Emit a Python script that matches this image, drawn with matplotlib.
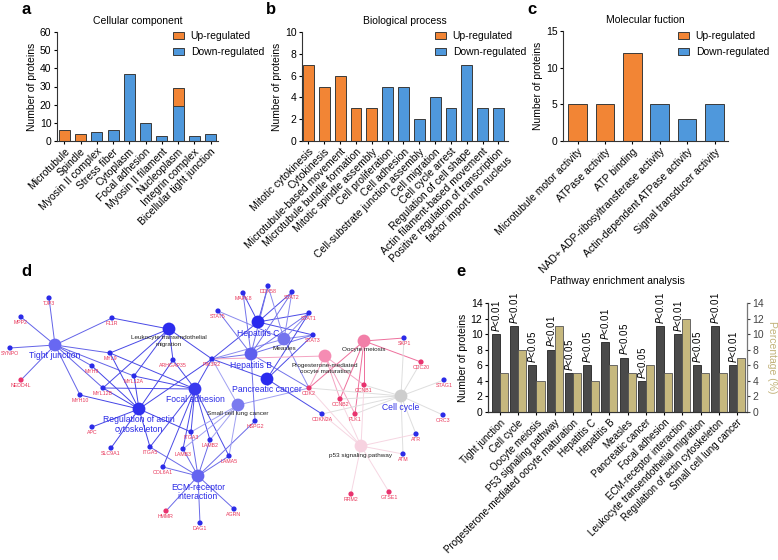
import matplotlib
matplotlib.use('Agg')
import numpy as np
import matplotlib.pyplot as plt
from matplotlib.patches import Patch

plt.rcParams['font.family'] = ['Liberation Sans', 'DejaVu Sans']
plt.rcParams['font.size'] = 7.5
plt.rcParams['axes.linewidth'] = 0.8
plt.rcParams['axes.edgecolor'] = '#333333'
plt.rcParams['xtick.major.size'] = 2.5
plt.rcParams['ytick.major.size'] = 2.5
plt.rcParams['xtick.major.width'] = 0.8
plt.rcParams['ytick.major.width'] = 0.8
plt.rcParams['xtick.major.pad'] = 1.5
plt.rcParams['ytick.major.pad'] = 1.5

W, H = 778, 560
UP = '#f28535'
DOWN = '#4f98dc'
EDGE = '#3a3a3a'
DARK = '#4a4a4a'
TAN = '#c6b87e'

# ---- data: GO panels ----
cc_terms = ['Microtubule', 'Spindle', 'Myosin II complex', 'Stress fiber', 'Cytoplasm',
            'Focal adhesion', 'Myosin II filament', 'Nucleoplasm', 'Integrin complex',
            'Bicellular tight junction']
cc_up = [6, 4, 0, 0, 0, 0, 0, 10, 0, 0]
cc_down = [0, 0, 5, 6, 37, 10, 3, 19, 3, 4]

bp_terms = ['Mitotic cytokinesis', 'Cytokinesis', 'Microtubule-based movement',
            'Microtubule bundle formation', 'Mitotic spindle assembly', 'Cell proliferation',
            'Cell adhesion', 'Cell-substrate junction assembly', 'Cell migration',
            'Cell cycle arrest', 'Regulation of cell shape', 'Actin filament-based movement',
            'Positive regulation of transcription\nfactor import into nucleus']
bp_up = [7, 5, 6, 3, 3, 0, 0, 0, 0, 0, 0, 0, 0]
bp_down = [0, 0, 0, 0, 0, 5, 5, 2, 4, 3, 7, 3, 3]

mf_terms = ['Microtubule motor activity', 'ATPase activity', 'ATP binding',
            'NAD+ ADP-ribosyltransferase activity', 'Actin-dependent ATPase activity',
            'Signal transducer activity']
mf_up = [5, 5, 12, 0, 0, 0]
mf_down = [0, 0, 0, 5, 3, 5]

# ---- data: pathway enrichment ----
kegg_terms = ['Tight junction', 'Cell cycle', 'Oocyte meiosis', 'P53 signaling pathway',
              'Progesterone-mediated oocyte maturation', 'Hepatitis C', 'Hepatitis B',
              'Measles', 'Pancreatic cancer', 'Focal adhesion', 'ECM-receptor interaction',
              'Leukocyte transendothelial migration', 'Regulation of actin cytoskeleton',
              'Small cell lung cancer']
kegg_count = [10, 11, 6, 8, 5, 6, 9, 7, 4, 11, 10, 6, 11, 6]
kegg_pct = [5, 8, 4, 11, 5, 4, 6, 5, 6, 5, 12, 5, 5, 7]
kegg_p = ['0.01', '0.01', '0.05', '0.01', '0.05', '0.05', '0.01', '0.05', '0.05',
          '0.01', '0.01', '0.05', '0.01', '0.01']

# ---- data: network (layout in picture pixels) ----
gene_layout = {
    'TJP3': (49, 298), 'MPP2': (21, 317), 'SYNPO': (10, 348), 'NEDD4L': (21, 380),
    'F11R': (112, 318), 'MYL9': (110, 353), 'MYH9': (92, 366), 'MYL12A': (134, 376),
    'ARHGAP35': (173, 360), 'MYL12B': (103, 388), 'MYH10': (80, 395), 'PIK3R2': (212, 359),
    'APC': (92, 427), 'SLC9A1': (111, 448), 'ITGA5': (150, 447), 'ITGA3': (191, 432),
    'LAMB2': (210, 440), 'LAMB3': (183, 449), 'LAMA5': (229, 456), 'COL6A1': (163, 467),
    'HMMR': (166, 511), 'DAG1': (200, 523), 'AGRN': (234, 509), 'HSPG2': (255, 421),
    'MAPK8': (243, 293), 'DDX58': (268, 286), 'STAT2': (292, 292), 'STAT5': (218, 311),
    'STAT1': (309, 313), 'STAT3': (313, 335), 'CDK2': (309, 388), 'CDKN2A': (322, 414),
    'SKP1': (404, 338), 'CDC20': (421, 362), 'CCNB1': (364, 385), 'CCNB2': (340, 399),
    'PLK1': (355, 414), 'STAG1': (444, 380), 'ORC3': (443, 415), 'ATR': (416, 434),
    'ATM': (403, 454), 'RRM2': (351, 494), 'GTSE1': (389, 492),
}
up_genes = ['NEDD4L', 'HMMR', 'CDK2', 'CCNB1', 'CCNB2', 'PLK1', 'CDC20', 'RRM2', 'GTSE1']

hub_layout = {
    'Tight junction': (55, 345), 'Leukocyte transendothelial\nmigration': (169, 329),
    'Regulation of actin\ncytoskeleton': (139, 409), 'Focal adhesion': (195, 389),
    'ECM-receptor\ninteraction': (198, 476), 'Small cell lung cancer': (238, 405),
    'Hepatitis C': (258, 322), 'Measles': (284, 339), 'Hepatitis B': (251, 354),
    'Pancreatic cancer': (267, 379), 'Oocyte meiosis': (364, 341),
    'Progesterone-mediated\noocyte maturation': (325, 356), 'Cell cycle': (401, 396),
    'p53 signaling pathway': (361, 446),
}
hub_genes = {
    'Tight junction': ['TJP3', 'MPP2', 'SYNPO', 'NEDD4L', 'F11R', 'MYL9', 'MYH9', 'MYH10',
                       'MYL12A', 'MYL12B'],
    'Leukocyte transendothelial\nmigration': ['F11R', 'MYL9', 'MYL12A', 'MYL12B', 'ARHGAP35',
                                              'PIK3R2'],
    'Regulation of actin\ncytoskeleton': ['MYL9', 'MYH9', 'MYH10', 'MYL12A', 'MYL12B', 'APC',
                                          'SLC9A1', 'ITGA5', 'ITGA3', 'PIK3R2', 'ARHGAP35'],
    'Focal adhesion': ['ITGA3', 'ITGA5', 'LAMB2', 'LAMB3', 'LAMA5', 'COL6A1', 'PIK3R2',
                       'MYL9', 'MYL12A', 'MYL12B', 'ARHGAP35'],
    'ECM-receptor\ninteraction': ['ITGA3', 'ITGA5', 'LAMB2', 'LAMB3', 'LAMA5', 'COL6A1',
                                  'HMMR', 'DAG1', 'AGRN', 'HSPG2'],
    'Small cell lung cancer': ['ITGA3', 'LAMB2', 'LAMB3', 'LAMA5', 'PIK3R2', 'CDK2'],
    'Hepatitis C': ['MAPK8', 'DDX58', 'STAT1', 'STAT2', 'STAT3', 'PIK3R2'],
    'Measles': ['DDX58', 'STAT1', 'STAT2', 'STAT3', 'STAT5', 'PIK3R2', 'CDK2'],
    'Hepatitis B': ['MAPK8', 'DDX58', 'STAT1', 'STAT2', 'STAT3', 'STAT5', 'PIK3R2', 'CDK2',
                    'HSPG2'],
    'Pancreatic cancer': ['STAT1', 'STAT3', 'PIK3R2', 'CDKN2A'],
    'Oocyte meiosis': ['SKP1', 'CDC20', 'CCNB1', 'CCNB2', 'PLK1', 'CDK2'],
    'Progesterone-mediated\noocyte maturation': ['CCNB1', 'CCNB2', 'PLK1', 'CDK2', 'PIK3R2'],
    'Cell cycle': ['SKP1', 'CDC20', 'STAG1', 'ORC3', 'ATR', 'ATM', 'CCNB1', 'CCNB2', 'PLK1',
                   'CDK2', 'CDKN2A'],
    'p53 signaling pathway': ['ATR', 'ATM', 'RRM2', 'GTSE1', 'CCNB1', 'CCNB2', 'CDK2',
                              'CDKN2A'],
}
hub_color = {
    'Tight junction': '#6868f2', 'Leukocyte transendothelial\nmigration': '#2c2cee',
    'Regulation of actin\ncytoskeleton': '#3030ee', 'Focal adhesion': '#3838ee',
    'ECM-receptor\ninteraction': '#6464f0', 'Small cell lung cancer': '#7a7aef',
    'Hepatitis C': '#2828ee', 'Measles': '#7474ee', 'Hepatitis B': '#5e5eee',
    'Pancreatic cancer': '#2a2aee', 'Oocyte meiosis': '#f27fa8',
    'Progesterone-mediated\noocyte maturation': '#f58cb3', 'Cell cycle': '#cdcdcd',
    'p53 signaling pathway': '#f7d2e0',
}
edge_color = {
    'Tight junction': '#6262e8', 'Leukocyte transendothelial\nmigration': '#4848e6',
    'Regulation of actin\ncytoskeleton': '#4444e6', 'Focal adhesion': '#4a4ae6',
    'ECM-receptor\ninteraction': '#6a6ae8', 'Small cell lung cancer': '#a0a0f2',
    'Hepatitis C': '#4a4ae6', 'Measles': '#8a8aee', 'Hepatitis B': '#7272ea',
    'Pancreatic cancer': '#4a4ae6', 'Oocyte meiosis': '#ee6f9c',
    'Progesterone-mediated\noocyte maturation': '#f4a3c2', 'Cell cycle': '#dedede',
    'p53 signaling pathway': '#f6d6e2',
}
blue_label_hubs = ['Tight junction', 'Regulation of actin\ncytoskeleton', 'Focal adhesion',
                   'ECM-receptor\ninteraction', 'Hepatitis C', 'Hepatitis B',
                   'Pancreatic cancer', 'Cell cycle']

fig = plt.figure(figsize=(W / 100, H / 100), dpi=100)


def px(l, t, r, b):
    return [l / W, 1 - b / H, (r - l) / W, (b - t) / H]


def go_panel(rect, terms, up, down, ymax, ystep, title, xlim, leg_xy):
    ax = fig.add_axes(px(*rect))
    x = np.arange(len(terms))
    for i in x:
        if down[i] > 0:
            ax.bar(i, down[i], width=0.68, color=DOWN, edgecolor=EDGE, linewidth=0.7)
        if up[i] > 0:
            ax.bar(i, up[i], bottom=down[i], width=0.68, color=UP, edgecolor=EDGE,
                   linewidth=0.7)
    ax.set_xlim(*xlim)
    ax.set_ylim(0, ymax)
    ax.set_yticks(np.arange(0, ymax + 1, ystep))
    ax.set_xticks(x)
    ax.set_xticklabels(terms, rotation=45, ha='right', rotation_mode='anchor')
    ax.spines['top'].set_visible(False)
    ax.spines['right'].set_visible(False)
    ax.set_ylabel('Number of proteins', labelpad=2)
    ax.set_title(title, fontsize=7.5, pad=6)
    handles = [Patch(facecolor=UP, edgecolor=EDGE, linewidth=0.7, label='Up-regulated'),
               Patch(facecolor=DOWN, edgecolor=EDGE, linewidth=0.7, label='Down-regulated')]
    fig.legend(handles=handles, loc='upper left',
               bbox_to_anchor=(leg_xy[0] / W, 1 - leg_xy[1] / H), frameon=False,
               borderpad=0, borderaxespad=0, handlelength=1.1, handleheight=0.75,
               handletextpad=0.6, labelspacing=0.6, fontsize=7.5)
    return ax


go_panel((57, 32, 218, 141), cc_terms, cc_up, cc_down, 60, 10, 'Cellular component',
         (-0.45, 9.46), (173, 31))
go_panel((302, 32, 508, 141), bp_terms, bp_up, bp_down, 10, 2, 'Biological process',
         (-0.41, 12.6), (435, 31))
go_panel((563, 31, 728, 141), mf_terms, mf_up, mf_down, 15, 5, 'Molecular fuction',
         (-0.53, 5.49), (678, 31))

# ---- panel e ----
axe = fig.add_axes(px(488, 303, 747, 412))
xe = np.arange(len(kegg_terms))
bw = 0.44
axe.bar(xe - bw / 2, kegg_count, width=bw, color=DARK, edgecolor='#222222', linewidth=0.6)
axe.set_xlim(-0.66, 13.55)
axe.set_ylim(0, 14)
axe.set_yticks(np.arange(0, 15, 2))
axe.set_xticks(xe)
axe.set_xticklabels(kegg_terms, rotation=45, ha='right', rotation_mode='anchor',
                    fontsize=7.1)
axe.spines['top'].set_visible(False)
axe.set_ylabel('Number of proteins', labelpad=2)
axe.set_title('Pathway enrichment analysis', fontsize=7.5, pad=14)
for i, (c, p) in enumerate(zip(kegg_count, kegg_p)):
    axe.text(i - bw / 2, c + 0.3, r'$\it{P}$<' + p, rotation=90, ha='center', va='bottom',
             fontsize=7, clip_on=False)
axr = axe.twinx()
axr.bar(xe + bw / 2, kegg_pct, width=bw, color=TAN, edgecolor='#555555', linewidth=0.6)
axr.set_ylim(0, 14)
axr.set_yticks(np.arange(0, 15, 2))
axr.spines['top'].set_visible(False)
axr.spines['right'].set_color('#777777')
axr.tick_params(axis='y', colors='#444444')
axr.set_ylabel('Percentage (%)', rotation=270, color='#c2b27a', labelpad=9)

# ---- panel d: network ----
axd = fig.add_axes(px(0, 262, 480, 560))
axd.set_xlim(0, 480)
axd.set_ylim(560, 262)
axd.axis('off')
for hub, genes in hub_genes.items():
    hx, hy = hub_layout[hub]
    for g in genes:
        gx, gy = gene_layout[g]
        axd.plot([hx, gx], [hy, gy], color=edge_color[hub], lw=0.7, zorder=1,
                 solid_capstyle='round')
for hub, (hx, hy) in hub_layout.items():
    axd.scatter(hx, hy, s=85, color=hub_color[hub], edgecolors='none', zorder=3)
    if hub in blue_label_hubs:
        axd.text(hx, hy + 6.5, hub, color='#2b2be6', fontsize=6.2, ha='center', va='top',
                 linespacing=1.1, zorder=5)
    else:
        axd.text(hx, hy + 6.5, hub, color='#222222', fontsize=4.6, ha='center', va='top',
                 linespacing=1.3, zorder=5)
for g, (gx, gy) in gene_layout.items():
    col = '#e8336e' if g in up_genes else '#2b2be8'
    axd.scatter(gx, gy, s=14, color=col, edgecolors='none', zorder=4)
    axd.text(gx, gy + 3.2, g, color='#e8365a', fontsize=3.8, ha='center', va='top',
             zorder=5)

# ---- panel letters ----
for letter, (lx, ly) in {'a': (21, 9), 'b': (266, 9), 'c': (527, 9), 'd': (21, 271),
                         'e': (456, 272)}.items():
    fig.text(lx / W, 1 - ly / H, letter, fontsize=12, fontweight='bold', ha='left',
             va='center')

fig.savefig('out.png', dpi=100)
